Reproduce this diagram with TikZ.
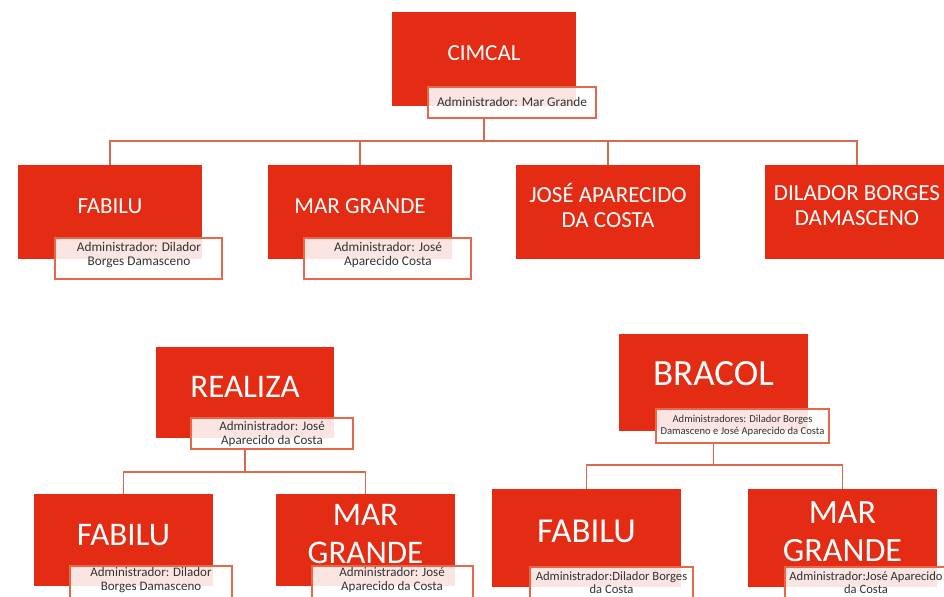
\documentclass[tikz,border=0pt]{standalone}
\usepackage{fontspec}
\setmainfont{Carlito}
\definecolor{boxred}{HTML}{E32C13}
\definecolor{lblborder}{HTML}{E8674A}
\definecolor{conn}{HTML}{D9694F}
\definecolor{lbltext}{HTML}{333333}
\tikzset{
  rbox/.style={rectangle, fill=boxred, draw=none, inner sep=0pt},
  lbl/.style={rectangle, fill=white, fill opacity=0.88, draw=lblborder, line width=1.2bp, inner sep=0pt},
  ttl/.style={text=white, align=center, inner sep=0pt},
  ltxt/.style={text=lbltext, align=center, inner sep=0pt},
  link/.style={draw=conn, line width=1.5bp},
}
\newcommand{\fs}[2]{\fontsize{#1bp}{#2bp}\selectfont}
\begin{document}
\begin{tikzpicture}[x=1bp,y=-1bp]
\useasboundingbox (0,0) rectangle (944,597);
\fill[white] (0,0) rectangle (944,597);

% ---------- top chart ----------
\node[rbox, minimum width=184bp, minimum height=94bp] (cimcal) at (484,59) {};
\node[rbox, minimum width=184bp, minimum height=94bp] (fab1) at (110,212) {};
\node[rbox, minimum width=184bp, minimum height=94bp] (mar1) at (360,212) {};
\node[rbox, minimum width=184bp, minimum height=94bp] (jose) at (608,212) {};
\node[rbox, minimum width=184bp, minimum height=94bp] (dil) at (857,212) {};

\node[lbl, minimum width=168bp, minimum height=31bp] (cimcalL) at (512,102.5) {};
\node[lbl, minimum width=167bp, minimum height=41bp] (fab1L) at (138.5,258.5) {};
\node[lbl, minimum width=167bp, minimum height=41bp] (mar1L) at (387.5,258.5) {};

\coordinate (c0) at (cimcal.center |- cimcalL.south);
\coordinate (bus1) at (484,141);
\draw[link] (c0) -- (bus1);
\draw[link] (fab1.north) -- ++(0,-24) -| (dil.north);
\draw[link] (mar1.north) -- ++(0,-24);
\draw[link] (jose.north) -- ++(0,-24);

\node[ttl, font=\fs{23}{25}] (cimcalT) at (484,53) {CIMCAL};
\node[ttl, font=\fs{23}{25}] (fab1T) at (110,206) {FABILU};
\node[ttl, font=\fs{23}{25}] (mar1T) at (360,206) {MAR GRANDE};
\node[ttl, font=\fs{23}{25}] (joseT) at (608,205.5) {JOSÉ APARECIDO\\DA COSTA};
\node[ttl, font=\fs{23}{25}] (dilT) at (857,205.5) {DILADOR BORGES\\DAMASCENO};

\node[ltxt, font=\fs{13.3}{14}] (cimcalLT) at (512,102) {Administrador: Mar Grande};
\node[ltxt, font=\fs{13.3}{14}] (fab1LT) at (139,255) {Administrador: Dilador\\Borges Damasceno};
\node[ltxt, font=\fs{13.3}{14}] (mar1LT) at (388,255) {Administrador: José\\Aparecido Costa};

% ---------- bottom left chart ----------
\node[rbox, minimum width=178bp, minimum height=91bp] (real) at (245,392.5) {};
\node[rbox, minimum width=179bp, minimum height=92bp] (fab2) at (123.5,540) {};
\node[rbox, minimum width=179bp, minimum height=92bp] (mar2) at (365.5,540) {};

\node[lbl, minimum width=162bp, minimum height=31bp] (realL) at (272,433.5) {};
\node[lbl, minimum width=162bp, minimum height=41bp] (fab2L) at (151,586.5) {};
\node[lbl, minimum width=161bp, minimum height=41bp] (mar2L) at (392.5,586.5) {};

\coordinate (c1) at (real.center |- realL.south);
\coordinate (bus2) at (245,472);
\draw[link] (c1) -- (bus2);
\draw[link] (fab2.north) -- ++(0,-22) -| (mar2.north);

\node[ttl, font=\fs{33}{38}] (realT) at (245,387) {REALIZA};
\node[ttl, font=\fs{33}{38}] (fab2T) at (123.5,535) {FABILU};
\node[ttl, font=\fs{33}{38}] (mar2T) at (365.5,534) {MAR\\GRANDE};

\node[ltxt, font=\fs{13}{14}] (realLT) at (272,434) {Administrador: José\\Aparecido da Costa};
\node[ltxt, font=\fs{13}{14}] (fab2LT) at (151,580.5) {Administrador: Dilador\\Borges Damasceno};
\node[ltxt, font=\fs{13}{14}] (mar2LT) at (392,580.5) {Administrador: José\\Aparecido da Costa};

% ---------- bottom right chart ----------
\node[rbox, minimum width=189bp, minimum height=97bp] (bra) at (713.5,382.5) {};
\node[rbox, minimum width=189bp, minimum height=98bp] (fab3) at (586.5,538) {};
\node[rbox, minimum width=189bp, minimum height=98bp] (mar3) at (842.5,538) {};

\node[lbl, minimum width=173bp, minimum height=34bp] (braL) at (742.5,426) {};
\node[lbl, minimum width=163bp, minimum height=43bp] (fab3L) at (611.5,588.5) {};
\node[lbl, minimum width=163bp, minimum height=43bp] (mar3L) at (866.5,588.5) {};

\coordinate (c2) at (bra.center |- braL.south);
\coordinate (bus3) at (713.5,465);
\draw[link] (c2) -- (bus3);
\draw[link] (fab3.north) -- ++(0,-24) -| (mar3.north);

\node[ttl, font=\fs{37}{38}] (braT) at (713.5,374) {BRACOL};
\node[ttl, font=\fs{35}{38}] (fab3T) at (586.5,531) {FABILU};
\node[ttl, font=\fs{34}{38}] (mar3T) at (842.5,532) {MAR\\GRANDE};

\node[ltxt, font=\fs{10.6}{12}] (braLT) at (742.5,426) {Administradores: Dilador Borges\\Damasceno e José Aparecido da Costa};
\node[ltxt, font=\fs{12.6}{13}] (fab3LT) at (611.5,583) {Administrador:Dilador Borges\\da Costa};
\node[ltxt, font=\fs{12.6}{13}] (mar3LT) at (866,583) {Administrador:José Aparecido\\da Costa};
\end{tikzpicture}
\end{document}
